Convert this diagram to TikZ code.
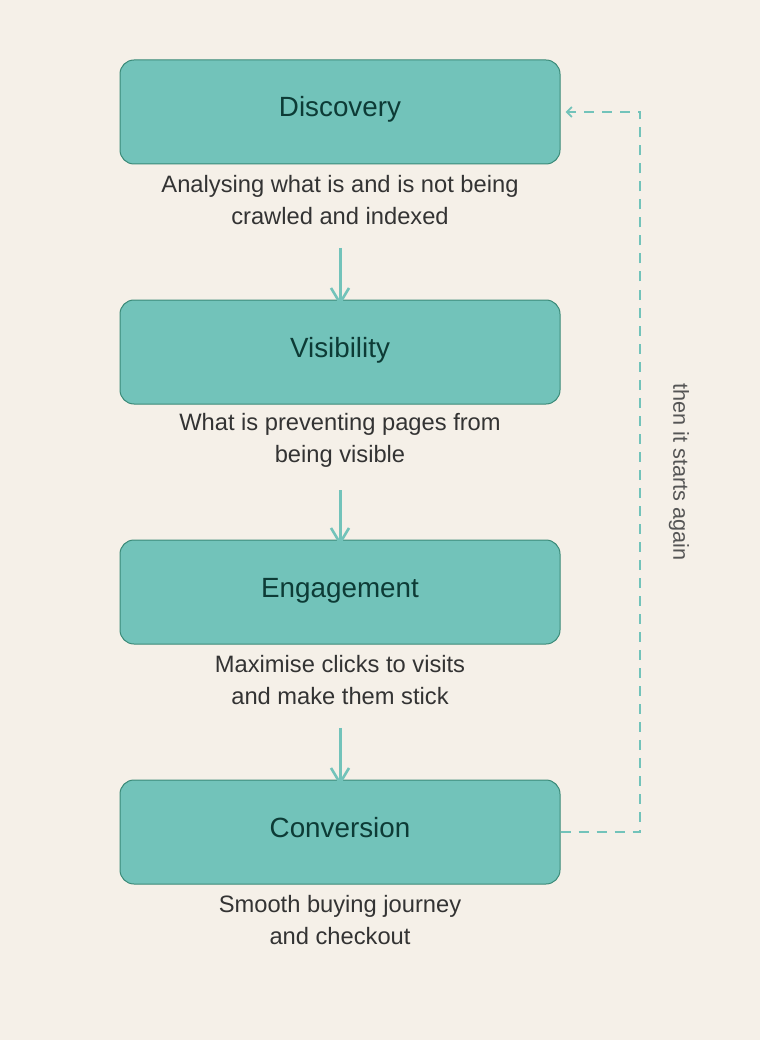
\documentclass[tikz,border=0pt]{standalone}
\usepackage{fontspec}
\setmainfont{Liberation Sans}
\usepackage{tikz}
\usetikzlibrary{arrows.meta,positioning}

\definecolor{paper}{HTML}{F5F0E8}
\definecolor{stagefill}{HTML}{72C3BA}
\definecolor{stageline}{HTML}{3A8A78}
\definecolor{stagetext}{HTML}{0D3B36}
\definecolor{notetext}{HTML}{333333}
\definecolor{sidetext}{HTML}{555555}

\tikzset{
  stage/.style={draw=stageline, fill=stagefill, rounded corners=14pt, line width=1pt,
    minimum width=440pt, minimum height=104pt, inner sep=0pt,
    text height=20pt, text depth=10pt,
    text=stagetext, font=\fontsize{27.8}{32}\selectfont},
  note/.style={align=center, inner sep=0pt, text=notetext,
    font=\fontsize{23.7}{32}\selectfont},
  flow/.style={draw=stagefill, line width=3pt,
    -{Straight Barb[length=15pt,width=18pt,line width=2.6pt]}},
  loop/.style={draw=stagefill, line width=2pt, dash pattern=on 10pt off 8pt,
    -{Straight Barb[length=5pt,width=10pt,line width=1.8pt]}}
}

\begin{document}
\begin{tikzpicture}[x=1pt,y=-1pt]
\fill[paper] (0,0) rectangle (760,1040);
\useasboundingbox (0,0) rectangle (760,1040);

% stages
\node[stage] (Discovery)  at (340,112) {Discovery};
\node[stage] (Visibility) at (340,352) {Visibility};
\node[stage] (Engagement) at (340,592) {Engagement};
\node[stage] (Conversion) at (340,832) {Conversion};

% notes under the stages
\node[note] (DiscoveryNote)  at (340,200) {Analysing what is and is not being\\crawled and indexed};
\node[note] (VisibilityNote) at (340,440) {What is preventing pages from\\being visible};
\node[note] (EngagementNote) at (340,680) {Maximise clicks to visits\\and make them stick};
\node[note] (ConversionNote) at (340,920) {Smooth buying journey\\and checkout};

% flow
\draw[flow] (DiscoveryNote.south)  ++(0,23) coordinate (a1) -- ([yshift=-6pt]Visibility.north);
\draw[flow] (VisibilityNote.south) ++(0,23) coordinate (a2) -- ([yshift=-6pt]Engagement.north);
\draw[flow] (EngagementNote.south) ++(0,23) coordinate (a3) -- ([yshift=-6pt]Conversion.north);

% loop back
\coordinate (loopBottom) at (640,832);
\coordinate (loopTop) at (640,112);
\draw[loop] (Conversion.east) -- (loopBottom) -- (loopTop) -- ([xshift=5pt]Discovery.east);
\node[rotate=-90, text=sidetext, font=\fontsize{21.7}{26}\selectfont] (again) at (679,472) {then it starts again};

\end{tikzpicture}
\end{document}
